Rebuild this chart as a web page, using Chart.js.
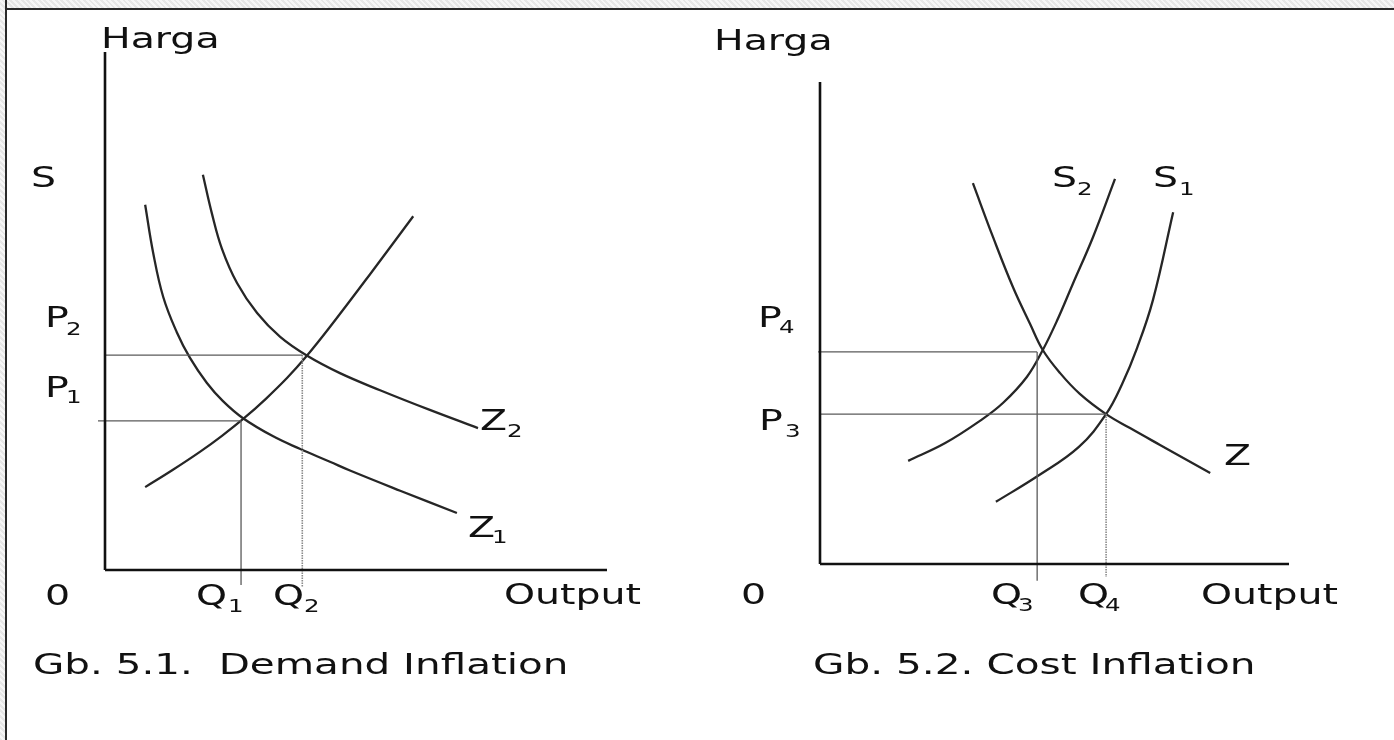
<!DOCTYPE html>
<html>
<head>
<meta charset="utf-8">
<script src="https://cdn.jsdelivr.net/npm/chart.js@4.4.1/dist/chart.umd.min.js"></script>
<style>
  html, body { margin: 0; padding: 0; background: #fff; width: 1394px; height: 740px; overflow: hidden; }
  #wrap { position: relative; width: 1394px; height: 740px; }
  .cv { position: absolute; top: 0; width: 697px; height: 740px; }
  #c1 { left: 0; } #c2 { left: 697px; }
  #topband { position: absolute; left: 0; top: 0; width: 1394px; height: 8px; border-bottom: 2px solid #2a2a2a;
    background: repeating-linear-gradient(45deg, #e6e6e6 0 2px, #f6f6f6 2px 4px); z-index: 5; }
  #leftband { position: absolute; left: 0; top: 0; width: 5px; height: 740px; border-right: 2px solid #2a2a2a;
    background: repeating-linear-gradient(45deg, #e6e6e6 0 2px, #f6f6f6 2px 4px); z-index: 5; }
</style>
</head>
<body>
<div id="wrap">
  <div class="cv" id="c1"><canvas id="chart1" width="697" height="740"></canvas></div>
  <div class="cv" id="c2"><canvas id="chart2" width="697" height="740"></canvas></div>
  <div id="topband"></div>
  <div id="leftband"></div>
</div>
<script>
// ---------- DATA (Output = quantity units 0..10, Harga = price units 0..10) ----------
const axisMax = 10;

// Gb. 5.1 Demand Inflation
const z1Output = [0.80, 0.96, 1.16, 1.43, 1.69, 2.03, 2.35, 2.75, 3.35, 3.88, 4.48, 4.88, 5.88, 7.01];
const z1Price  = [7.05, 6.12, 5.27, 4.59, 4.10, 3.61, 3.26, 2.93, 2.58, 2.34, 2.09, 1.92, 1.53, 1.10];
const z2Output = [1.95, 2.13, 2.33, 2.63, 3.03, 3.49, 4.02, 4.68, 5.48, 6.47, 7.43];
const z2Price  = [7.63, 6.88, 6.20, 5.54, 4.96, 4.50, 4.14, 3.80, 3.47, 3.09, 2.74];
const sOutput  = [0.80, 1.33, 1.89, 2.33, 2.77, 3.21, 3.63, 4.00, 4.48, 5.28, 6.14];
const sPrice   = [1.60, 1.92, 2.28, 2.59, 2.93, 3.31, 3.71, 4.11, 4.69, 5.71, 6.83];
const Q1 = 2.71, P1 = 2.88, Q2 = 3.93, P2 = 4.15;

// Gb. 5.2 Cost Inflation
const s2Output = [1.88, 2.67, 3.41, 3.90, 4.41, 4.75, 5.05, 5.39, 5.82, 6.29];
const s2Price  = [2.14, 2.51, 2.97, 3.34, 3.88, 4.44, 5.04, 5.81, 6.78, 7.99];
const s1Output = [3.75, 4.65, 5.52, 6.10, 6.44, 6.76, 7.10, 7.53];
const s1Price  = [1.29, 1.83, 2.43, 3.11, 3.73, 4.48, 5.48, 7.30];
const zOutput  = [3.26, 3.69, 4.12, 4.48, 4.75, 5.12, 5.54, 6.10, 6.61, 7.25, 8.32];
const zPrice   = [7.90, 6.78, 5.73, 4.98, 4.44, 3.96, 3.53, 3.11, 2.82, 2.47, 1.89];
const Q3 = 4.63, P4 = 4.40, Q4 = 6.10, P3 = 3.11;

// ---------- helpers ----------
const pts = (xs, ys) => xs.map((x, i) => ({ x: x, y: ys[i] }));
const CURVE = '#262626', AXIS = '#111111', GUIDE = '#5a5a5a', DOT = '#8a8a8a';

function curve(data) {
  return { data, showLine: true, borderColor: CURVE, borderWidth: 2.3, pointRadius: 0,
           tension: 0.4, clip: false };
}
function straight(data, color, width, dash) {
  return { data, showLine: true, borderColor: color, borderWidth: width, pointRadius: 0,
           tension: 0, borderDash: dash || [], clip: false };
}

const FONT = '"DejaVu Sans", Verdana, sans-serif';
const SX = 1.36;
const textPlugin = {
  id: 'diagramText',
  afterDatasetsDraw(chart, args, opts) {
    const ctx = chart.ctx;
    ctx.save();
    ctx.fillStyle = '#111';
    ctx.textBaseline = 'alphabetic';
    ctx.textAlign = 'left';
    (opts.items || []).forEach(it => {
      ctx.save();
      ctx.font = (it.size || 29) + 'px ' + FONT;
      ctx.translate(it.x, it.y);
      ctx.scale(it.scale || SX, 1);
      ctx.fillText(it.t, 0, 0);
      ctx.restore();
      if (it.sub) {
        ctx.save();
        ctx.font = '18px ' + FONT;
        ctx.translate(it.sx, it.sy);
        ctx.scale(SX, 1);
        ctx.fillText(it.sub, 0, 0);
        ctx.restore();
      }
    });
    ctx.restore();
  }
};

function makeChart(id, datasets, padding, items) {
  return new Chart(document.getElementById(id), {
    type: 'scatter',
    data: { datasets },
    options: {
      responsive: false, animation: false, events: [],
      layout: { padding },
      scales: {
        x: { type: 'linear', min: 0, max: axisMax, display: false },
        y: { type: 'linear', min: 0, max: axisMax, display: false }
      },
      plugins: { legend: { display: false }, tooltip: { enabled: false }, diagramText: { items } }
    },
    plugins: [textPlugin]
  });
}

// ---------- Chart 1: Demand Inflation ----------
makeChart('chart1', [
  straight([{ x: 0, y: 0 }, { x: 0, y: axisMax }], AXIS, 2.6),
  straight([{ x: 0, y: 0 }, { x: axisMax, y: 0 }], AXIS, 2.6),
  straight([{ x: -0.14, y: P1 }, { x: Q1, y: P1 }], GUIDE, 1.3),
  straight([{ x: 0, y: P2 }, { x: Q2, y: P2 }], GUIDE, 1.3),
  straight([{ x: Q1, y: P1 }, { x: Q1, y: -0.29 }], GUIDE, 1.3),
  straight([{ x: Q2, y: P2 }, { x: Q2, y: -0.33 }], DOT, 1.6, [1.5, 1]),
  curve(pts(z1Output, z1Price)),
  curve(pts(z2Output, z2Price)),
  curve(pts(sOutput, sPrice))
], { left: 105, right: 90, top: 52, bottom: 170 }, [
  { t: 'Harga', x: 101, y: 48 },
  { t: 'S', x: 31, y: 187 },
  { t: 'P', x: 45, y: 327, sub: '2', sx: 66, sy: 335 },
  { t: 'P', x: 45, y: 397, sub: '1', sx: 66, sy: 403 },
  { t: '0', x: 45, y: 605 },
  { t: 'Q', x: 196, y: 605, sub: '1', sx: 228, sy: 612 },
  { t: 'Q', x: 273, y: 605, sub: '2', sx: 304, sy: 612 },
  { t: 'Output', x: 504, y: 604 },
  { t: 'Z', x: 480, y: 430, sub: '2', sx: 507, sy: 437 },
  { t: 'Z', x: 468, y: 537, sub: '1', sx: 492, sy: 543 },
  { t: 'Gb. 5.1.  Demand Inflation', x: 33, y: 674, scale: 1.395 }
]);

// ---------- Chart 2: Cost Inflation ----------
makeChart('chart2', [
  straight([{ x: 0, y: 0 }, { x: 0, y: axisMax }], AXIS, 2.6),
  straight([{ x: 0, y: 0 }, { x: axisMax, y: 0 }], AXIS, 2.6),
  straight([{ x: -0.04, y: P4 }, { x: Q3, y: P4 }], GUIDE, 1.3),
  straight([{ x: 0, y: P3 }, { x: Q4, y: P3 }], GUIDE, 1.3),
  straight([{ x: Q3, y: P4 }, { x: Q3, y: -0.35 }], GUIDE, 1.3),
  straight([{ x: Q4, y: P3 }, { x: Q4, y: -0.27 }], DOT, 1.6, [1.5, 1]),
  curve(pts(s2Output, s2Price)),
  curve(pts(s1Output, s1Price)),
  curve(pts(zOutput, zPrice))
], { left: 123, right: 105, top: 82, bottom: 176 }, [
  { t: 'Harga', x: 17, y: 50 },
  { t: 'S', x: 355, y: 187, sub: '2', sx: 380, sy: 195 },
  { t: 'S', x: 456, y: 187, sub: '1', sx: 482, sy: 195 },
  { t: 'P', x: 61, y: 327, sub: '4', sx: 82, sy: 333 },
  { t: 'P', x: 62, y: 430, sub: '3', sx: 88, sy: 437 },
  { t: 'Z', x: 527, y: 465 },
  { t: '0', x: 44, y: 604 },
  { t: 'Q', x: 294, y: 604, sub: '3', sx: 321, sy: 611 },
  { t: 'Q', x: 381, y: 604, sub: '4', sx: 408, sy: 611 },
  { t: 'Output', x: 504, y: 604 },
  { t: 'Gb. 5.2. Cost Inflation', x: 116, y: 674, scale: 1.40 }
]);
</script>
</body>
</html>
